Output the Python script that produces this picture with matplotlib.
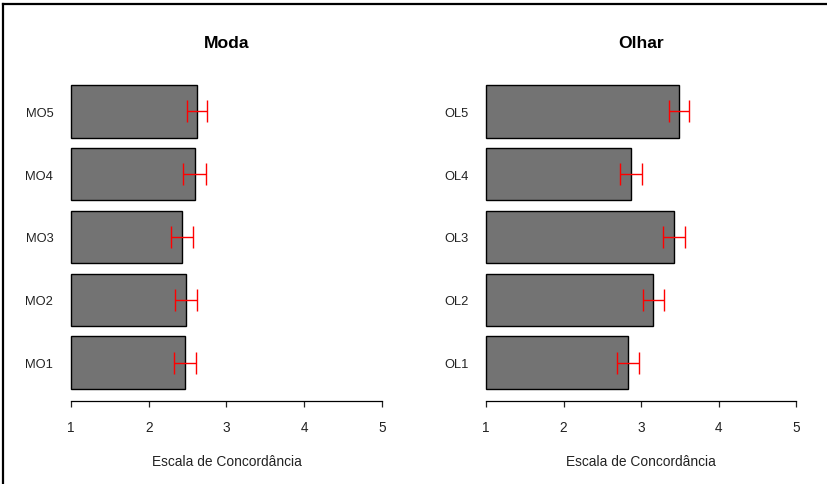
import matplotlib
matplotlib.use("Agg")
import matplotlib.pyplot as plt
from matplotlib.lines import Line2D
import numpy as np

plt.rcParams['font.family'] = ['Liberation Sans', 'DejaVu Sans']

# mean agreement per item and error half-widths
moda_labels = ['MO1', 'MO2', 'MO3', 'MO4', 'MO5']
moda_means = [2.47, 2.48, 2.43, 2.59, 2.62]
moda_err = [0.14, 0.14, 0.14, 0.145, 0.13]

olhar_labels = ['OL1', 'OL2', 'OL3', 'OL4', 'OL5']
olhar_means = [2.83, 3.16, 3.43, 2.875, 3.49]
olhar_err = [0.145, 0.14, 0.14, 0.14, 0.13]

ticks = [1, 2, 3, 4, 5]

W, H = 827, 485
fig = plt.figure(figsize=(W / 100, H / 100), dpi=100)


def panel(x0, x1, title, labels, means, err):
    y_top, y_bot = 74, 402
    ax = fig.add_axes([x0 / W, 1 - y_bot / H, (x1 - x0) / W, (y_bot - y_top) / H])
    pos = 0.7 + 1.2 * np.arange(len(labels))
    means = np.array(means)
    ax.barh(pos, means - 1, left=1, height=1.0, color='#737373',
            edgecolor='black', linewidth=1.0)
    ax.errorbar(means, pos, xerr=err, fmt='none', ecolor='#ff0000',
                elinewidth=1.0, capsize=7.9, capthick=1.0)
    ax.set_xlim(0.84, 5.16)
    ax.set_ylim(-0.032, 6.232)
    for s in ['top', 'right', 'left']:
        ax.spines[s].set_visible(False)
    ax.spines['bottom'].set_bounds(1, 5)
    ax.spines['bottom'].set_linewidth(0.9)
    ax.set_xticks(ticks)
    ax.set_xticklabels([str(t) for t in ticks], fontsize=9.8, color='#222222')
    ax.tick_params(axis='x', length=4.5, width=0.9, pad=9.5, colors='#222222')
    ax.set_yticks(pos)
    ax.set_yticklabels(labels, fontsize=9.3, color='#222222')
    ax.tick_params(axis='y', length=0, pad=3.8)
    ax.set_xlabel('Escala de Concordância', fontsize=9.9, labelpad=14, color='#222222')
    ax.set_title(title, fontsize=12.6, fontweight='bold', pad=19)
    return ax


panel(58.6, 394.4, 'Moda', moda_labels, moda_means, moda_err)
panel(473.6, 808.4, 'Olhar', olhar_labels, olhar_means, olhar_err)

# outer frame lines
fig.add_artist(Line2D([2.5 / W, 2.5 / W], [0, 1 - 4.5 / H], color='black', lw=1.6,
                      transform=fig.transFigure))
fig.add_artist(Line2D([2.5 / W, 1], [1 - 4.5 / H, 1 - 4.5 / H], color='black', lw=1.6,
                      transform=fig.transFigure))

fig.savefig('out.png', dpi=100)
